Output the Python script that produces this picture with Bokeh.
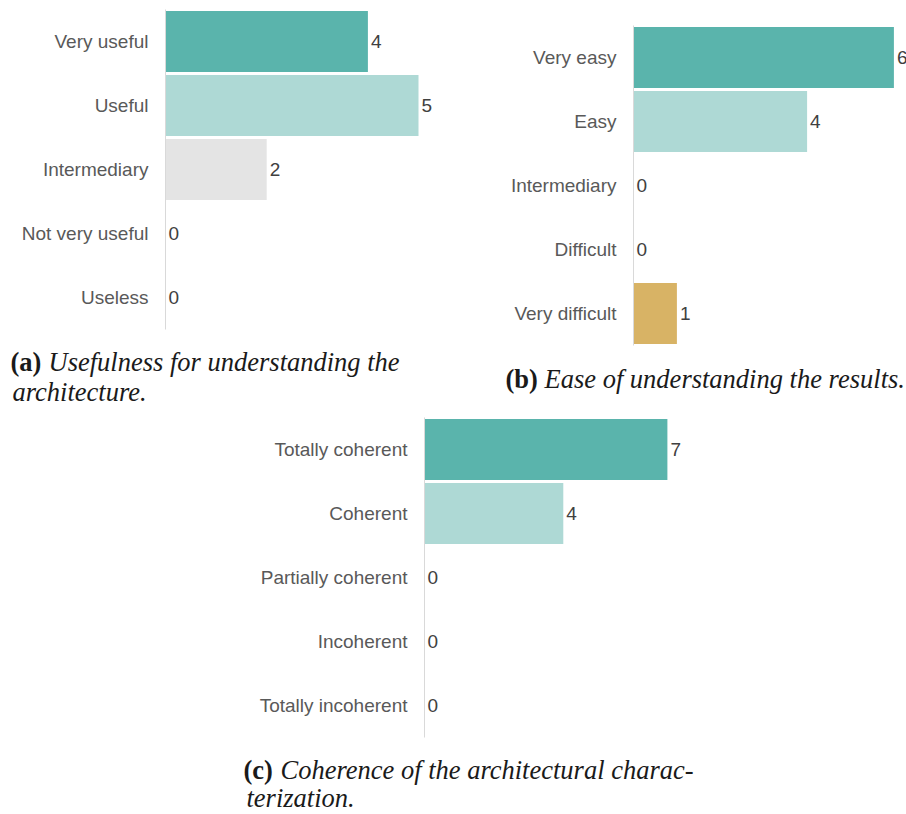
from bokeh.plotting import figure
from bokeh.models import ColumnDataSource, FactorRange, Range1d, Label, Spacer
from bokeh.layouts import column, row
from bokeh.core.properties import value
from bokeh.embed import file_html
from bokeh.resources import INLINE

# ---- data ----
a_categories = ["Very useful", "Useful", "Intermediary", "Not very useful", "Useless"]
a_counts = [4, 5, 2, 0, 0]
b_categories = ["Very easy", "Easy", "Intermediary", "Difficult", "Very difficult"]
b_counts = [6, 4, 0, 0, 1]
c_categories = ["Totally coherent", "Coherent", "Partially coherent", "Incoherent", "Totally incoherent"]
c_counts = [7, 4, 0, 0, 0]
scale_colors = ["#5AB4AC", "#AED9D5", "#E4E4E4", "#EBD9B2", "#D8B365"]

a_tag = "(a)"
a_caption = ["Usefulness for understanding the", "architecture."]
b_tag = "(b)"
b_caption = ["Ease of understanding the results."]
c_tag = "(c)"
c_caption = ["Coherence of the architectural charac-", "terization."]

LABEL_FONT = "Liberation Sans"
CAP_FONT = "Liberation Serif"
CAP_SIZE = "26.5px"


def make_chart(cats, counts, width, height, left, top, xmax):
    src = ColumnDataSource(dict(cat=cats, val=counts, color=scale_colors,
                                lbl=[str(v) for v in counts]))
    p = figure(width=width, height=height,
               y_range=FactorRange(factors=list(reversed(cats)), range_padding=0),
               x_range=Range1d(0, xmax),
               x_axis_location=None, output_backend="svg", toolbar_location=None,
               min_border_left=left, min_border_top=top,
               min_border_bottom=height - top - 320, min_border_right=0)
    p.frame_align = False
    p.outline_line_color = None
    p.grid.visible = False
    p.hbar(y="cat", left=0, right="val", height=0.95, fill_color="color",
           line_color=None, source=src)
    p.text(x="val", y="cat", text="lbl", source=src, x_offset=3,
           text_align="left", text_baseline="middle",
           text_font=value(LABEL_FONT), text_font_size="19px", text_color="#404040")
    ax = p.yaxis[0]
    ax.axis_line_color = "#D9D9D9"
    ax.axis_line_width = 1
    ax.major_tick_line_color = None
    ax.minor_tick_line_color = None
    ax.major_tick_out = 0
    ax.major_tick_in = 0
    ax.major_label_standoff = 17
    ax.major_label_text_font = LABEL_FONT
    ax.major_label_text_font_size = "19px"
    ax.major_label_text_color = "#595959"
    return p


def make_caption(width, height, tag, lines, x_tag, x_text, x_line2, y1, y2):
    c = figure(width=width, height=height, x_range=Range1d(0, width),
               y_range=Range1d(height, 0), x_axis_location=None, y_axis_location=None,
               output_backend="svg", toolbar_location=None, min_border=0)
    c.frame_align = False
    c.outline_line_color = None
    c.grid.visible = False
    c.add_layout(Label(x=x_tag, y=y1, text=tag, text_font=CAP_FONT,
                       text_font_style="bold", text_font_size=CAP_SIZE,
                       text_color="#1A1A1A", text_baseline="alphabetic"))
    c.add_layout(Label(x=x_text, y=y1, text=lines[0], text_font=CAP_FONT,
                       text_font_style="italic", text_font_size=CAP_SIZE,
                       text_color="#1A1A1A", text_baseline="alphabetic"))
    if len(lines) > 1:
        c.add_layout(Label(x=x_line2, y=y2, text=lines[1], text_font=CAP_FONT,
                           text_font_style="italic", text_font_size=CAP_SIZE,
                           text_color="#1A1A1A", text_baseline="alphabetic"))
    return c


pa = make_chart(a_categories, a_counts, 450, 334, 165, 9, 285 / 50.6)
ca = make_caption(450, 76, a_tag, a_caption, 10, 48, 12, 27, 57)

pb = make_chart(b_categories, b_counts, 456, 350, 183, 25, 273 / 43.4)
cb = make_caption(456, 60, b_tag, b_caption, 55, 94, 94, 28, 28)

pc = make_chart(c_categories, c_counts, 470, 332, 186, 7, 284 / 34.7)
cc = make_caption(470, 70, c_tag, c_caption, 5, 42, 8, 27, 55)

layout = column(row(column(pa, ca), column(pb, cb)),
                row(Spacer(width=238, height=402), column(pc, cc)))

open("out.html", "w").write(file_html(layout, INLINE))
